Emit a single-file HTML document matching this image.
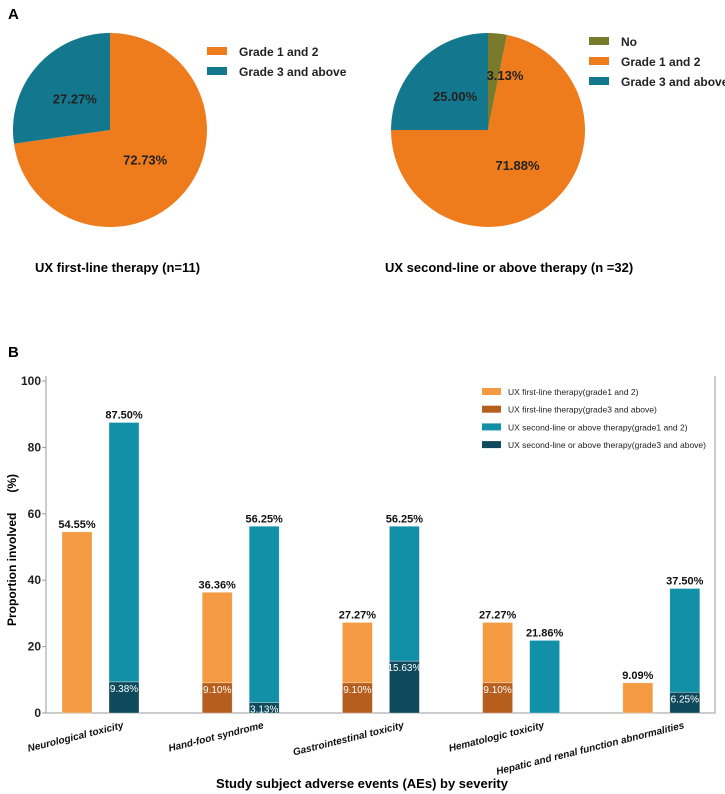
<!DOCTYPE html>
<html><head><meta charset="utf-8"><style>
body{margin:0;background:#fff;}
svg{display:block;font-family:"Liberation Sans",Arial,sans-serif;}
</style></head><body>
<svg width="725" height="794" viewBox="0 0 725 794" xmlns="http://www.w3.org/2000/svg">
<text x="8" y="19" font-size="15" font-weight="bold">A</text>
<g id="pies"></g>
<text x="35" y="272" font-size="13" font-weight="bold">UX first-line therapy  (n=11)</text>
<text x="385" y="272" font-size="13" font-weight="bold">UX second-line or above therapy  (n =32)</text>
<text x="8" y="357" font-size="15" font-weight="bold">B</text>
<g id="bars"></g>
<text x="362" y="788" font-size="13" font-weight="bold" text-anchor="middle">Study subject adverse events (AEs) by severity</text>
<text transform="translate(16,550) rotate(-90)" font-size="12" font-weight="bold" text-anchor="middle" xml:space="preserve">Proportion involved      (%)</text>
</svg>
<script>
const pie1Labels = ["Grade 1 and 2","Grade 3 and above"];
const pie1Values = [72.73, 27.27];
const pie2Labels = ["No","Grade 1 and 2","Grade 3 and above"];
const pie2Values = [3.13, 71.88, 25.00];
const categories = ["Neurological toxicity","Hand-foot syndrome","Gastrointestinal toxicity","Hematologic toxicity","Hepatic and renal function abnormalities"];
const firstTotal = [54.55, 36.36, 27.27, 27.27, 9.09];
const firstG3 = [0, 9.10, 9.10, 9.10, 0];
const secondTotal = [87.50, 56.25, 56.25, 21.86, 37.50];
const secondG3 = [9.38, 3.13, 15.63, 0, 6.25];
const yTicks = [0,20,40,60,80,100];
const legendLabels = ["UX first-line therapy(grade1 and 2)","UX first-line therapy(grade3 and above)","UX second-line or above therapy(grade1 and 2)","UX second-line or above therapy(grade3 and above)"];

const NS="http://www.w3.org/2000/svg";
function mk(tag,attrs,parent,text){const e=document.createElementNS(NS,tag);for(const k in attrs)e.setAttribute(k,attrs[k]);if(text!==undefined)e.textContent=text;parent.appendChild(e);return e;}

const pies=document.getElementById('pies');
function drawPie(cx,cy,r,values,colors,name){
  const tot=values.reduce((a,b)=>a+b,0);
  let a0=0;
  const labels=[];
  values.forEach((v,i)=>{
    const a1=a0+v/tot*2*Math.PI;
    const x0=cx+r*Math.sin(a0),y0=cy-r*Math.cos(a0),x1=cx+r*Math.sin(a1),y1=cy-r*Math.cos(a1);
    const large=(a1-a0)>Math.PI?1:0;
    const p=mk('path',{d:`M${cx},${cy} L${x0},${y0} A${r},${r} 0 ${large} 1 ${x1},${y1} Z`,fill:colors[i]},pies);
    
    
    const am=(a0+a1)/2;
    if(v<5){labels.push([cx+17,cy-50,v]);}
    else{const rr=r*0.48;labels.push([cx+rr*Math.sin(am),cy-rr*Math.cos(am)+4,v]);}
    a0=a1;
  });
  labels.forEach((L,i)=>{
    const t=mk('text',{x:L[0],y:L[1],'font-size':13,'font-weight':'bold','text-anchor':'middle',fill:'#222'},pies,L[2].toFixed(2)+'%');
    
    
  });
}
drawPie(110,130,97,pie1Values,['#EE7B1C','#13788E'],'pie1');
drawPie(488,130,97,pie2Values,['#7A7A2C','#EE7B1C','#13788E'],'pie2');
function pieLegend(x,y,labels,colors,name,step){
  labels.forEach((l,i)=>{
    const r=mk('rect',{x:x,y:y+i*step-5,width:20,height:8,fill:colors[i]},pies);
    
    
    const t=mk('text',{x:x+32,y:y+i*step+4,'font-size':12,'font-weight':'bold',fill:'#222'},pies,l);
    
    
  });
}
pieLegend(207,52,pie1Labels,['#EE7B1C','#13788E'],'pie1',20);
pieLegend(589,42,pie2Labels,['#7A7A2C','#EE7B1C','#13788E'],'pie2',20);

const bars=document.getElementById('bars');
const X0=46,X1=715,Y0=713,Y100=381;
const ys=v=>Y0-(v/100)*(Y0-Y100);
const groupX=i=>62+i*140.2;
const BW=30;
const ax=mk('path',{d:`M${X0},${Y100-5} L${X0},${Y0} L${X1},${Y0} L${X1},${Y100-5}`,fill:'none',stroke:'#999','stroke-width':1},bars);


yTicks.forEach(t=>{
  const l=mk('line',{x1:X0-4,x2:X0,y1:ys(t),y2:ys(t),stroke:'#999'},bars);
  
  
  const tx=mk('text',{x:X0-5,y:ys(t)+4,'font-size':12,'font-weight':'bold','text-anchor':'end',fill:'#222'},bars,String(t));
  
  
});
function bar(x,lo,hi,color,name){
  const r=mk('rect',{x:x,y:ys(hi),width:BW,height:ys(lo)-ys(hi),fill:color,stroke:'#fff','stroke-opacity':0.5,'stroke-width':0.6},bars);
  
  
}
function lbl(x,v,txt,color,name,inside){
  const t=mk('text',{x:x+BW/2,y:inside?ys(v)+10:ys(v)-4,'font-size':inside?10:11,'font-weight':inside?'normal':'bold','text-anchor':'middle',fill:color},bars,txt);
  
  
}
categories.forEach((c,i)=>{
  const xo=groupX(i), xt=xo+47;
  if(firstG3[i]>0) bar(xo,0,firstG3[i],'#B65E1E','bar-first-g3-'+(i+1));
  bar(xo,firstG3[i],firstTotal[i],'#F39A43','bar-first-g12-'+(i+1));
  if(secondG3[i]>0) bar(xt,0,secondG3[i],'#0E4A5C','bar-second-g3-'+(i+1));
  bar(xt,secondG3[i],secondTotal[i],'#1190A8','bar-second-g12-'+(i+1));
  lbl(xo,firstTotal[i],firstTotal[i].toFixed(2)+'%','#111','value-first-'+(i+1),false);
  lbl(xt,secondTotal[i],secondTotal[i].toFixed(2)+'%','#111','value-second-'+(i+1),false);
  if(firstG3[i]>0) lbl(xo,firstG3[i],firstG3[i].toFixed(2)+'%','#fff','value-first-g3-'+(i+1),true);
  if(secondG3[i]>0) lbl(xt,secondG3[i],secondG3[i].toFixed(2)+'%','#fff','value-second-g3-'+(i+1),true);
  const cx=xo+62;
  const t=mk('text',{transform:`translate(${cx},${728}) rotate(-14)`,'font-size':10,'font-style':'italic','font-weight':'bold','text-anchor':'end',fill:'#111'},bars,c);
  
  
});
const lc=['#F39A43','#B65E1E','#1190A8','#0E4A5C'];
legendLabels.forEach((l,i)=>{
  const y=392+i*17.7;
  const r=mk('rect',{x:482,y:y-4,width:19,height:7,fill:lc[i]},bars);
  
  
  const t=mk('text',{x:508,y:y+3,'font-size':8.5,fill:'#222'},bars,l);
  
  
});
</script>
</body></html>
